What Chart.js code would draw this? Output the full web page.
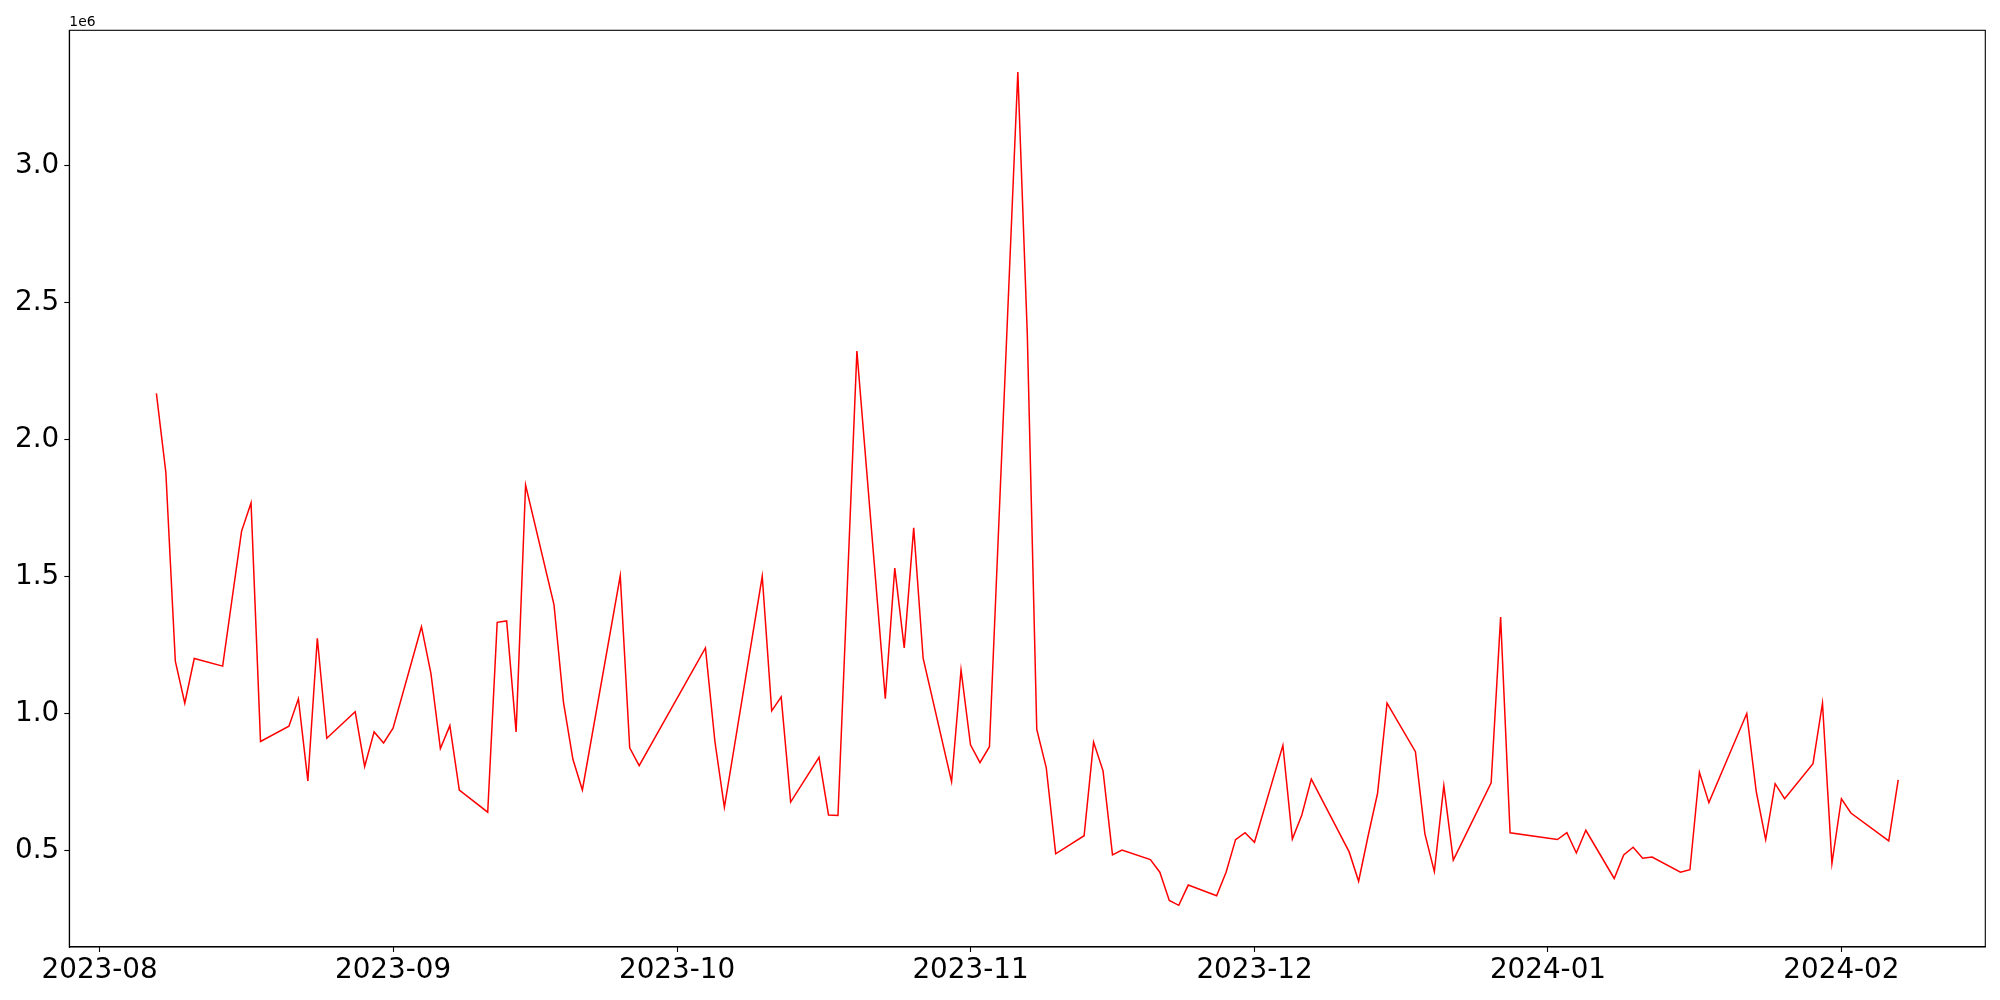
<!DOCTYPE html>
<html>
<head>
<meta charset="utf-8">
<script src="https://cdn.jsdelivr.net/npm/chart.js@4.4.0/dist/chart.umd.min.js"></script>
<style>
html,body{margin:0;padding:0;background:#ffffff;}
#wrap{width:2000px;height:1000px;position:relative;}
canvas{display:block;}
</style>
</head>
<body>
<div id="wrap"><canvas id="c" width="2000" height="1000"></canvas></div>
<script>
// ---- data ----
const dates = [
  "2023-08-07","2023-08-08","2023-08-09","2023-08-10","2023-08-11","2023-08-14","2023-08-16","2023-08-17","2023-08-18",
  "2023-08-21","2023-08-22","2023-08-23","2023-08-24","2023-08-25","2023-08-28","2023-08-29","2023-08-30","2023-08-31",
  "2023-09-01","2023-09-04","2023-09-05","2023-09-06","2023-09-07","2023-09-08","2023-09-11","2023-09-12","2023-09-13",
  "2023-09-14","2023-09-15","2023-09-18","2023-09-19","2023-09-20","2023-09-21","2023-09-25","2023-09-26","2023-09-27",
  "2023-10-04","2023-10-05","2023-10-06","2023-10-10","2023-10-11","2023-10-12","2023-10-13","2023-10-16","2023-10-17",
  "2023-10-18","2023-10-20","2023-10-23","2023-10-24","2023-10-25","2023-10-26","2023-10-27","2023-10-30","2023-10-31",
  "2023-11-01","2023-11-02","2023-11-03","2023-11-06","2023-11-07","2023-11-08","2023-11-09","2023-11-10","2023-11-13",
  "2023-11-14","2023-11-15","2023-11-16","2023-11-17","2023-11-20","2023-11-21","2023-11-22","2023-11-23","2023-11-24",
  "2023-11-27","2023-11-28","2023-11-29","2023-11-30","2023-12-01","2023-12-04","2023-12-05","2023-12-06","2023-12-07",
  "2023-12-11","2023-12-12","2023-12-13","2023-12-14","2023-12-15","2023-12-18","2023-12-19","2023-12-20","2023-12-21",
  "2023-12-22","2023-12-26","2023-12-27","2023-12-28","2024-01-02","2024-01-03","2024-01-04","2024-01-05","2024-01-08",
  "2024-01-09","2024-01-10","2024-01-11","2024-01-12","2024-01-15","2024-01-16","2024-01-17","2024-01-18","2024-01-22",
  "2024-01-23","2024-01-24","2024-01-25","2024-01-26","2024-01-29","2024-01-30","2024-01-31","2024-02-01","2024-02-02",
  "2024-02-06","2024-02-07"
];
const values = [
  2169000,1880000,1191000,1038000,1201000,1173000,1666000,1769000,898000,
  954000,1054000,754000,1275000,910000,1007000,807000,933000,893000,
  947000,1317000,1147000,872000,956000,721000,640000,1333000,1338000,
  933000,1834000,1398000,1042000,833000,721000,1503000,875000,810000,
  1240000,898000,658000,1501000,1010000,1061000,677000,840000,630000,
  628000,2323000,1054000,1531000,1240000,1678000,1201000,751000,1159000,
  886000,821000,879000,3342000,2385000,942000,803000,488000,554000,
  896000,791000,484000,502000,467000,421000,318000,300000,374000,
  335000,421000,540000,565000,530000,884000,542000,630000,761000,
  495000,388000,553000,709000,1038000,861000,561000,423000,737000,
  465000,747000,1352000,565000,540000,565000,491000,574000,398000,
  484000,512000,472000,476000,421000,430000,786000,675000,1000000,
  716000,540000,744000,689000,817000,1038000,453000,689000,637000,
  535000,758000
];
const monthTickLabels = ["2023-08","2023-09","2023-10","2023-11","2023-12","2024-01","2024-02"];
const yTickValues = [500000,1000000,1500000,2000000,2500000,3000000];
const offsetLabel = "1e6";

// ---- helpers ----
const DAY = 86400000;
const ORIGIN = Date.UTC(2023,7,1);
function toDay(s){
  const p = s.split('-').map(Number);
  return (Date.UTC(p[0], p[1]-1, p[2] || 1) - ORIGIN) / DAY;
}
const points = dates.map((d,i)=>({x:toDay(d), y:values[i]}));
const monthTicks = monthTickLabels.map(toDay);

// matplotlib-like 5% margins
const xs = points.map(p=>p.x), ys = points.map(p=>p.y);
const xMin0 = Math.min(...xs), xMax0 = Math.max(...xs);
const yMin0 = Math.min(...ys), yMax0 = Math.max(...ys);
const xm = (xMax0-xMin0)*0.05, ym = (yMax0-yMin0)*0.05;

const FONT = "'DejaVu Sans', sans-serif";
const TICKFONT = {family: FONT, size: 27.8};

const framePlugin = {
  id:'frame',
  afterDraw(chart){
    const {ctx, chartArea:a} = chart;
    ctx.save();
    ctx.strokeStyle = '#000';
    ctx.lineWidth = 1.1;
    ctx.strokeRect(a.left, a.top, a.right-a.left, a.bottom-a.top);
    ctx.fillStyle = '#000';
    ctx.font = "13.9px " + FONT;
    ctx.textAlign = 'left';
    ctx.textBaseline = 'alphabetic';
    ctx.fillText(offsetLabel, a.left, a.top - 4.5);
    ctx.restore();
  }
};

new Chart(document.getElementById('c'), {
  type:'line',
  data:{
    datasets:[{
      data: points,
      borderColor:'#ff0000',
      borderWidth:1.5,
      pointRadius:0,
      tension:0,
      fill:false
    }]
  },
  options:{
    responsive:false,
    devicePixelRatio:1,
    animation:false,
    parsing:true,
    layout:{padding:{top:30.3, right:14.7, left:0, bottom:0}},
    plugins:{legend:{display:false}, tooltip:{enabled:false}, title:{display:false}},
    scales:{
      x:{
        type:'linear',
        min: xMin0 - xm,
        max: xMax0 + xm,
        afterBuildTicks(s){ s.ticks = monthTicks.map(v=>({value:v})); },
        afterFit(s){ s.height = 53; },
        ticks:{
          autoSkip:false, maxRotation:0, minRotation:0,
          color:'#000', font:TICKFONT, padding:2,
          callback(v){ const i = monthTicks.indexOf(v); return i>=0 ? monthTickLabels[i] : ''; }
        },
        grid:{drawOnChartArea:false, drawTicks:true, tickLength:5, tickColor:'#000', tickWidth:1.1},
        border:{display:true, color:'#000', width:1.1}
      },
      y:{
        type:'linear',
        min: yMin0 - ym,
        max: yMax0 + ym,
        afterBuildTicks(s){ s.ticks = yTickValues.map(v=>({value:v})); },
        afterFit(s){ s.width = 69.3; },
        ticks:{
          color:'#000', font:TICKFONT, padding:5,
          callback(v){ return (v/1e6).toFixed(1); }
        },
        grid:{drawOnChartArea:false, drawTicks:true, tickLength:5, tickColor:'#000', tickWidth:1.1},
        border:{display:true, color:'#000', width:1.1}
      }
    }
  },
  plugins:[framePlugin]
});
</script>
</body>
</html>
